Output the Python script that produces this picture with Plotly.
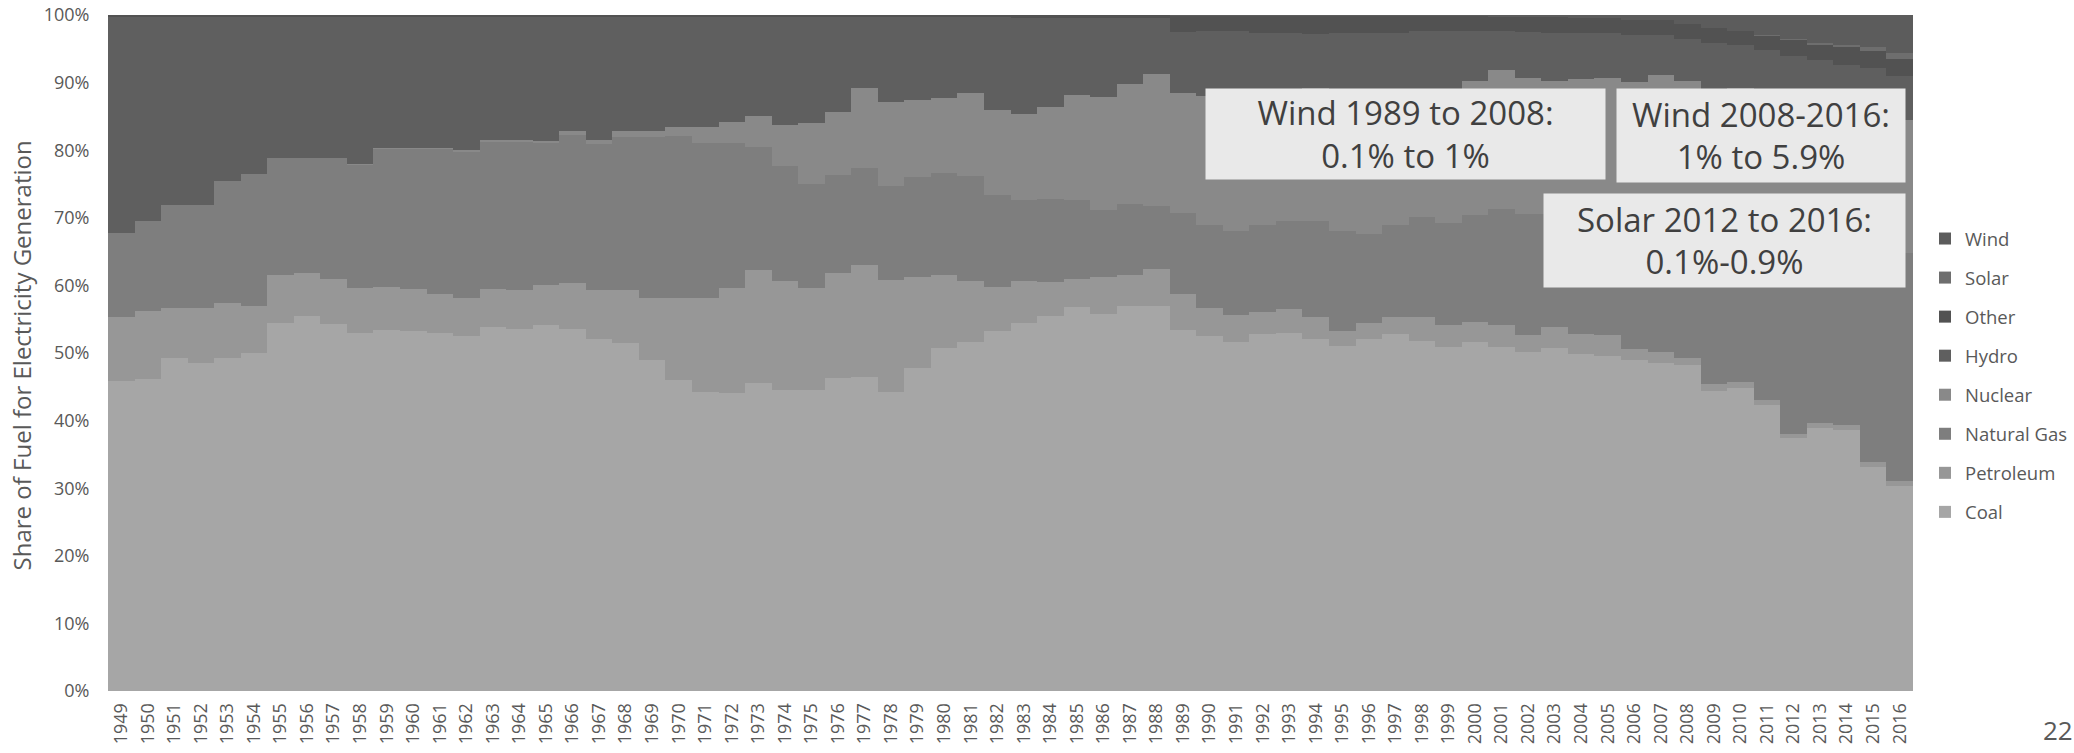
import plotly.graph_objects as go

years = [str(y) for y in range(1949, 2017)]

coal = [45.9, 46.2, 49.2, 48.5, 49.3, 50.0, 54.5, 55.5, 54.3, 53.0,
        53.4, 53.3, 52.9, 52.5, 53.8, 53.6, 54.1, 53.6, 52.0, 51.5,
        49.0, 46.0, 44.3, 44.1, 45.6, 44.5, 44.5, 46.3, 46.4, 44.2,
        47.8, 50.8, 51.7, 53.2, 54.5, 55.5, 56.8, 55.7, 56.9, 57.0,
        53.4, 52.5, 51.7, 52.8, 53.0, 52.0, 51.0, 52.1, 52.8, 51.8,
        50.9, 51.7, 50.9, 50.1, 50.8, 49.8, 49.6, 49.0, 48.5, 48.2,
        44.4, 44.8, 42.3, 37.4, 38.9, 38.6, 33.2, 30.4]
petroleum = [9.5, 10.0, 7.5, 8.2, 8.1, 7.0, 7.1, 6.3, 6.7, 6.6,
             6.4, 6.1, 5.9, 5.7, 5.6, 5.7, 6.0, 6.7, 7.3, 7.8,
             9.1, 12.1, 13.8, 15.5, 16.7, 16.1, 15.1, 15.5, 16.6, 16.6,
             13.5, 10.8, 9.0, 6.5, 6.2, 5.0, 4.1, 5.5, 4.6, 5.5,
             5.3, 4.2, 3.9, 3.2, 3.5, 3.3, 2.2, 2.3, 2.5, 3.6,
             3.2, 2.9, 3.3, 2.5, 3.1, 3.0, 3.0, 1.6, 1.6, 1.1,
             1.0, 0.9, 0.7, 0.6, 0.7, 0.7, 0.7, 0.6]
natural_gas = [12.4, 13.3, 15.2, 15.2, 18.0, 19.5, 17.3, 17.1, 17.9, 18.3,
               20.4, 20.9, 21.4, 21.6, 21.8, 21.9, 20.9, 22.0, 21.6, 22.7,
               23.8, 24.0, 23.0, 21.5, 18.2, 17.0, 15.4, 14.5, 14.4, 13.9,
               14.7, 15.1, 15.5, 13.7, 12.0, 12.3, 11.8, 10.0, 10.6, 9.3,
               12.0, 12.3, 12.4, 13.0, 13.0, 14.2, 14.8, 13.2, 13.7, 14.7,
               15.2, 15.8, 17.1, 17.9, 16.7, 17.9, 18.8, 20.1, 21.6, 21.4,
               23.3, 23.9, 24.7, 30.3, 27.7, 27.5, 32.7, 33.8]
nuclear = [0, 0, 0, 0, 0, 0, 0, 0, 0.0, 0.1,
           0.1, 0.1, 0.2, 0.2, 0.3, 0.3, 0.3, 0.5, 0.6, 0.9,
           1.0, 1.4, 2.4, 3.1, 4.5, 6.1, 9.0, 9.4, 11.8, 12.5,
           11.4, 11.0, 12.2, 12.6, 12.7, 13.6, 15.5, 16.6, 17.7, 19.5,
           17.8, 19.0, 20.1, 20.1, 19.1, 19.7, 20.1, 19.6, 18.0, 18.6,
           19.7, 19.8, 20.6, 20.2, 19.7, 19.9, 19.3, 19.4, 19.4, 19.6,
           20.2, 19.6, 19.3, 19.0, 19.4, 19.5, 19.5, 19.7]
hydro = [32.0, 30.2, 27.8, 27.8, 24.3, 23.2, 20.8, 20.8, 20.8, 21.7,
         19.4, 19.3, 19.3, 19.7, 18.2, 18.2, 18.4, 16.9, 18.2, 16.8,
         16.8, 16.2, 16.2, 15.5, 14.7, 16.0, 15.7, 14.0, 10.5, 12.5,
         12.3, 12.0, 11.3, 13.7, 14.2, 13.1, 11.3, 11.7, 9.7, 8.2,
         9.0, 9.6, 9.5, 8.2, 8.7, 8.0, 9.3, 10.2, 10.4, 8.9,
         8.6, 7.4, 5.8, 6.8, 7.1, 6.8, 6.7, 7.0, 5.9, 6.1,
         6.9, 6.3, 7.8, 6.7, 6.6, 6.3, 6.1, 6.5]
other = [0.2, 0.3, 0.3, 0.3, 0.3, 0.3, 0.3, 0.3, 0.3, 0.3,
         0.3, 0.3, 0.3, 0.3, 0.3, 0.3, 0.3, 0.3, 0.3, 0.3,
         0.3, 0.3, 0.3, 0.3, 0.3, 0.3, 0.3, 0.3, 0.3, 0.3,
         0.3, 0.3, 0.3, 0.3, 0.4, 0.5, 0.5, 0.5, 0.5, 0.5,
         2.4, 2.3, 2.3, 2.6, 2.6, 2.7, 2.5, 2.5, 2.5, 2.3,
         2.3, 2.3, 2.1, 2.2, 2.3, 2.2, 2.2, 2.2, 2.2, 2.3,
         2.3, 2.2, 2.2, 2.4, 2.4, 2.6, 2.5, 2.5]
solar = [0] * 60 + [0.0, 0.0, 0.1, 0.1, 0.2, 0.4, 0.6, 0.9]
wind = [0] * 40 + [0.1, 0.1, 0.1, 0.1, 0.1, 0.1, 0.1, 0.1, 0.1, 0.1,
                   0.1, 0.1, 0.2, 0.3, 0.3, 0.4, 0.4, 0.7, 0.8, 1.3,
                   1.9, 2.3, 2.9, 3.5, 4.1, 4.4, 4.7, 5.6]

series = [
    ("Coal", coal, "#a6a6a6"),
    ("Petroleum", petroleum, "#979797"),
    ("Natural Gas", natural_gas, "#7e7e7e"),
    ("Nuclear", nuclear, "#898989"),
    ("Hydro", hydro, "#5f5f5f"),
    ("Other", other, "#525252"),
    ("Solar", solar, "#6e6e6e"),
    ("Wind", wind, "#5c5c5c"),
]

annotations_text = [
    "Wind 1989 to 2008:<br>0.1% to 1%",
    "Wind 2008-2016:<br>1% to 5.9%",
    "Solar 2012 to 2016:<br>0.1%-0.9%",
]

FONT = "Open Sans, Noto Sans, sans-serif"
TXT = "#595959"

fig = go.Figure()
n = len(series)
for i, (name, vals, col) in enumerate(series):
    fig.add_trace(go.Bar(
        x=years, y=vals, name=name, legendgroup=name,
        legendrank=n - i,
        marker=dict(color=col, line=dict(width=0)),
    ))

W, H = 2074, 753
PL, PR, PT, PB = 108.3, 1912.7, 15.0, 691.5


def px_x(p):
    return (p - PL) / (PR - PL)


def px_y(p):
    return (PB - p) / (PB - PT)


boxes = [
    (1206, 1605, 89, 179),
    (1617, 1905, 89, 182),
    (1544, 1905, 194, 287),
]
anns = []
for (x0, x1, y0, y1), t in zip(boxes, annotations_text):
    anns.append(dict(
        xref="paper", yref="paper",
        x=px_x((x0 + x1) / 2), y=px_y((y0 + y1) / 2),
        xanchor="center", yanchor="middle",
        text=t, showarrow=False,
        width=x1 - x0, height=y1 - y0, borderpad=0,
        bgcolor="#e9e9e9",
        font=dict(family=FONT, size=33, color="#404040"),
        align="center",
    ))

anns.append(dict(
    xref="paper", yref="paper", x=px_x(22), y=px_y(356),
    xanchor="center", yanchor="middle", textangle=-90,
    text="Share of Fuel for Electricity Generation", showarrow=False,
    font=dict(family=FONT, size=24, color=TXT),
))
anns.append(dict(
    xref="paper", yref="paper", x=px_x(2058), y=px_y(731),
    xanchor="center", yanchor="middle",
    text="22", showarrow=False,
    font=dict(family=FONT, size=26, color=TXT),
))

fig.update_layout(
    width=W, height=H,
    margin=dict(l=PL, r=W - PR, t=PT, b=H - PB, pad=0, autoexpand=False),
    paper_bgcolor="white", plot_bgcolor="white",
    barmode="stack", barnorm="percent", bargap=0,
    font=dict(family=FONT, size=18, color=TXT),
    showlegend=True,
    legend=dict(
        x=1925 / W, xref="container", xanchor="left",
        y=(H - 220) / H, yref="container", yanchor="top",
        traceorder="grouped", tracegroupgap=12,
        font=dict(family=FONT, size=18.5, color=TXT),
        itemwidth=30, bgcolor="rgba(0,0,0,0)",
    ),
    annotations=anns,
)
fig.update_xaxes(
    type="category", tickangle=-90, dtick=1, automargin=False,
    tickfont=dict(family=FONT, size=18, color=TXT),
    showgrid=False, showline=False, zeroline=False,
    ticks="outside", ticklen=4, tickcolor="rgba(0,0,0,0)",
)
fig.update_yaxes(
    range=[0, 100], dtick=10, ticksuffix="%", automargin=False,
    tickfont=dict(family=FONT, size=18, color=TXT),
    showgrid=False, showline=False, zeroline=False,
    ticks="outside", ticklen=14, tickcolor="rgba(0,0,0,0)",
)

fig.write_html(
    "out.html",
    config={"displayModeBar": False},
    post_script="document.body.style.margin='0';"
                "document.body.style.padding='0';"
                "document.body.style.overflow='hidden';",
)
